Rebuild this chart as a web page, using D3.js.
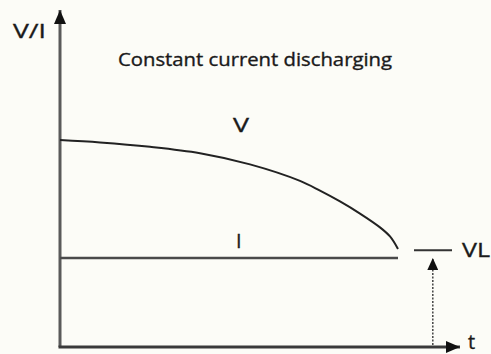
<!DOCTYPE html>
<html lang="en">
<head>
    <meta charset="UTF-8">
    <title>Constant current discharging</title>
    <script src="https://d3js.org/d3.v7.min.js"></script>
    <style>
        html, body { margin: 0; padding: 0; background: #fcfcf7; }
        svg { display: block; }
        text { font-family: "Open Sans", sans-serif; fill: #1a1a1a; stroke: #1a1a1a; stroke-width: 0.35; }
    </style>
</head>
<body>
<svg width="491" height="354"></svg>

<script>
    // voltage curve (schematic units)
    var tValues = [0, 1, 2.25, 3.5, 4.75, 6, 6.5, 7, 7.5, 8, 8.25, 8.45];
    var vValues = [6.14, 6.07, 5.94, 5.75, 5.42, 4.93, 4.64, 4.32, 3.96, 3.55, 3.28, 2.91];
    // constant current level and voltage limit
    var iLevel = [2.64];
    var vlLevel = [2.87];
    var vlSpan = [8.85, 9.8];
    var vlMarkT = [9.32];
    var tEnd = [8.45];

    var svg = d3.select('svg');

    var x = d3.scaleLinear().domain([0, 10]).range([60, 460]);
    var y = d3.scaleLinear().domain([0, 10]).range([347, 10]);

    // arrow heads
    var defs = svg.append('defs');
    defs.append('marker')
        .attr('id', 'arrow')
        .attr('viewBox', '0 0 14 12')
        .attr('refX', 14).attr('refY', 6)
        .attr('markerWidth', 14).attr('markerHeight', 12)
        .attr('markerUnits', 'userSpaceOnUse')
        .attr('orient', 'auto')
        .append('path').attr('d', 'M0,0L14,6L0,12Z').attr('fill', '#111');
    defs.append('marker')
        .attr('id', 'arrowSmall')
        .attr('viewBox', '0 0 12 11')
        .attr('refX', 12).attr('refY', 5.5)
        .attr('markerWidth', 12).attr('markerHeight', 11)
        .attr('markerUnits', 'userSpaceOnUse')
        .attr('orient', 'auto')
        .append('path').attr('d', 'M0,0L12,5.5L0,11Z').attr('fill', '#111');

    // axes
    svg.append('line')
        .attr('x1', x(0)).attr('y1', y(0))
        .attr('x2', x(0)).attr('y2', y(10))
        .attr('stroke', '#5a5a5a').attr('stroke-width', 3)
        .attr('marker-end', 'url(#arrow)');
    svg.append('line')
        .attr('x1', x(0) - 1.5).attr('y1', y(0))
        .attr('x2', x(10)).attr('y2', y(0))
        .attr('stroke', '#3a3a3a').attr('stroke-width', 3)
        .attr('marker-end', 'url(#arrow)');

    // V curve
    var pts = tValues.map(function (t, i) { return [t, vValues[i]]; });
    var line = d3.line()
        .x(function (d) { return x(d[0]); })
        .y(function (d) { return y(d[1]); })
        .curve(d3.curveCatmullRom.alpha(0.5));
    svg.append('path')
        .attr('d', line(pts))
        .attr('fill', 'none')
        .attr('stroke', '#222')
        .attr('stroke-width', 2);

    // I line
    svg.append('line')
        .attr('x1', x(0)).attr('y1', y(iLevel[0]))
        .attr('x2', x(tEnd[0])).attr('y2', y(iLevel[0]))
        .attr('stroke', '#4a4a4a').attr('stroke-width', 2.5);

    // VL mark
    svg.append('line')
        .attr('x1', x(vlSpan[0])).attr('y1', y(vlLevel[0]))
        .attr('x2', x(vlSpan[1])).attr('y2', y(vlLevel[0]))
        .attr('stroke', '#333').attr('stroke-width', 2);
    svg.append('line')
        .attr('x1', x(vlMarkT[0])).attr('y1', y(0) - 2)
        .attr('x2', x(vlMarkT[0])).attr('y2', y(iLevel[0]))
        .attr('stroke', '#444').attr('stroke-width', 1.5)
        .attr('stroke-dasharray', '2,1.5')
        .attr('marker-end', 'url(#arrowSmall)');

    // labels
    svg.append('text').attr('x', 13).attr('y', 38)
        .attr('font-size', 20).attr('textLength', 33).attr('lengthAdjust', 'spacingAndGlyphs')
        .text('V/I');
    svg.append('text').attr('x', 118).attr('y', 66)
        .attr('font-size', 18).attr('textLength', 274).attr('lengthAdjust', 'spacingAndGlyphs')
        .text('Constant current discharging');
    svg.append('text').attr('x', 233).attr('y', 132)
        .attr('font-size', 20).attr('textLength', 16).attr('lengthAdjust', 'spacingAndGlyphs')
        .text('V');
    svg.append('text').attr('x', 236).attr('y', 248)
        .attr('font-size', 20)
        .text('I');
    svg.append('text').attr('x', 462).attr('y', 257)
        .attr('font-size', 20).attr('textLength', 28).attr('lengthAdjust', 'spacingAndGlyphs')
        .text('VL');
    svg.append('text').attr('x', 468).attr('y', 349)
        .attr('font-size', 20)
        .text('t');
</script>
</body>
</html>
